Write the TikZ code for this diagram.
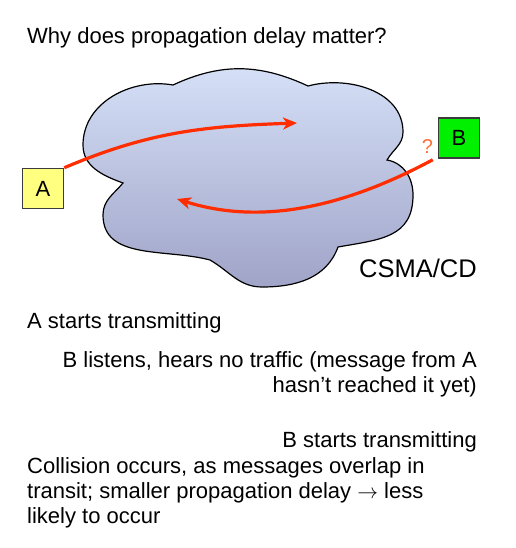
\documentclass[tikz,border=0pt]{standalone}
\usepackage{fontspec}
\setmainfont{Liberation Sans}
\usetikzlibrary{arrows.meta}
\definecolor{cloudTop}{RGB}{214,225,248}
\definecolor{cloudBottom}{RGB}{160,164,200}
\definecolor{msgRed}{RGB}{255,45,0}
\definecolor{askOrange}{RGB}{255,110,60}
\definecolor{stationYellow}{RGB}{255,255,128}
\definecolor{stationGreen}{RGB}{0,240,0}
\definecolor{edgeGray}{RGB}{60,60,60}

\begin{document}
\begin{tikzpicture}[x=1pt, y=1pt,
    station/.style={draw=edgeGray, line width=1.5pt, minimum width=41pt,
                    minimum height=40pt, inner sep=0pt, font=\fontsize{22}{25}\selectfont},
    msg/.style={-{Stealth[length=14pt,width=12pt,inset=4pt]}, line width=3.2pt, color=msgRed},
    say/.style={inner sep=0pt, font=\fontsize{22}{25}\selectfont}
  ]
  \useasboundingbox (0,0) rectangle (515,-548);
  \fill[white] (0,0) rectangle (515,-548);

  % the shared medium
  \draw[line width=1.2pt, top color=cloudTop, bottom color=cloudBottom]
    (123,-183) to[out=160,in=-90] (83,-145) to[out=90,in=170] (173,-85)
    to[out=25,in=155] (308,-86) to[out=15,in=90] (403,-132)
    to[out=-90,in=60] (387,-160) to[out=-10,in=90] (413,-195)
    to[out=-90,in=10,looseness=1.2] (338,-247) to[out=-110,in=0] (262,-287)
    to[out=180,in=-30] (210,-260) to[out=165,in=-90] (103,-215)
    to[out=90,in=230] (123,-183) -- cycle;

  \node[say, anchor=base west] (title) at (27,-43.5) {Why does propagation delay matter?};
  \node[say, font=\fontsize{25.5}{28}\selectfont, anchor=base west] (proto) at (359,-277) {CSMA/CD};

  \node[station, fill=stationYellow] (nodeA) at (43,-188.5) {A};
  \node[station, fill=stationGreen]  (nodeB) at (459,-138)  {B};
  \node[say, text=askOrange, font=\fontsize{20}{22}\selectfont] (ask) at (427.5,-147) {?};

  \coordinate (msgA) at (297,-123);
  \coordinate (msgB) at (177,-199);
  \draw[msg] (nodeA.north east) to[out=23,in=182] (msgA);
  \draw[msg] ([shift={(-5,-1)}]nodeB.south west) .. controls (330,-215) and (250,-222) .. (msgB);

  \node[say, anchor=base west] (stepA) at (27,-328) {A starts transmitting};
  \node[say, anchor=base east, align=right] (stepB) at (477,-392)
    {B listens, hears no traffic (message from A\\hasn’t reached it yet)};
  \node[say, anchor=base east] (stepC) at (477,-447) {B starts transmitting};
  \node[say, anchor=base west, align=left] (stepD) at (27,-523)
    {Collision occurs, as messages overlap in\\transit; smaller propagation delay $\rightarrow$ less\\likely to occur};
\end{tikzpicture}
\end{document}
